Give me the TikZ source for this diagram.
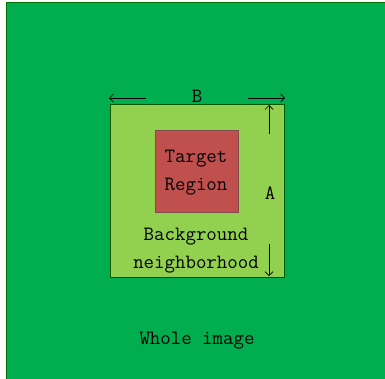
\documentclass[tikz,border=0pt]{standalone}
\usepackage{fontspec}
\usetikzlibrary{arrows.meta}

\begin{document}
\begin{tikzpicture}[
    x=1pt, y=-1pt,   % coordinate in pixel, y verso il basso
    immagine/.style={draw=green!45!black, fill=verdescuro, line width=0.8pt},
    intorno/.style={draw=green!35!black, fill=verdechiaro, line width=0.6pt},
    bersaglio/.style={draw=red!30!black!70, fill=rossoregione, line width=0.6pt},
    etichetta/.style={font=\fontsize{20.3}{22}\selectfont\ttfamily, text=black, align=center, inner sep=0pt},
    quota/.style={-{Straight Barb[length=4pt,width=8pt]}, black, line width=0.7pt}
]
    \definecolor{verdescuro}{HTML}{00AE50}
    \definecolor{verdechiaro}{HTML}{92D050}
    \definecolor{rossoregione}{HTML}{C0504D}

    \useasboundingbox (0,0) rectangle (385,378);
    \clip (0,0) rectangle (385,378);

    % =========================================================================
    % 1. IMMAGINE INTERA
    % =========================================================================
    \fill[white] (0,0) rectangle (385,378);
    \draw[immagine] (6,2) rectangle (390,383);
    \node[etichetta] (intera) at (197,341) {Whole image};

    % =========================================================================
    % 2. INTORNO DI SFONDO
    % =========================================================================
    \draw[intorno] (110,104) rectangle (284,277);
    \node[etichetta] (sfondo) at (196,251) {Background\\[6pt]neighborhood};

    % =========================================================================
    % 3. REGIONE BERSAGLIO
    % =========================================================================
    \draw[bersaglio] (155,130) rectangle (238,212);
    \node[etichetta] (regione) at (196,173) {Target\\[6pt]Region};

    % =========================================================================
    % 4. QUOTE A e B
    % =========================================================================
    \node[etichetta] (quotaB) at (197,96) {B};
    \coordinate (Bsx) at (146,98);
    \coordinate (Bsxfine) at (109,98);
    \coordinate (Bdx) at (248,98);
    \coordinate (Bdxfine) at (285,98);
    \draw[quota] (Bsx) -- (Bsxfine);
    \draw[quota] (Bdx) -- (Bdxfine);

    \node[etichetta] (quotaA) at (270,193) {A};
    \coordinate (Asu) at (269,134);
    \coordinate (Asufine) at (269,105);
    \coordinate (Agiu) at (269,244);
    \coordinate (Agiufine) at (269,276);
    \draw[quota] (Asu) -- (Asufine);
    \draw[quota] (Agiu) -- (Agiufine);

\end{tikzpicture}
\end{document}
